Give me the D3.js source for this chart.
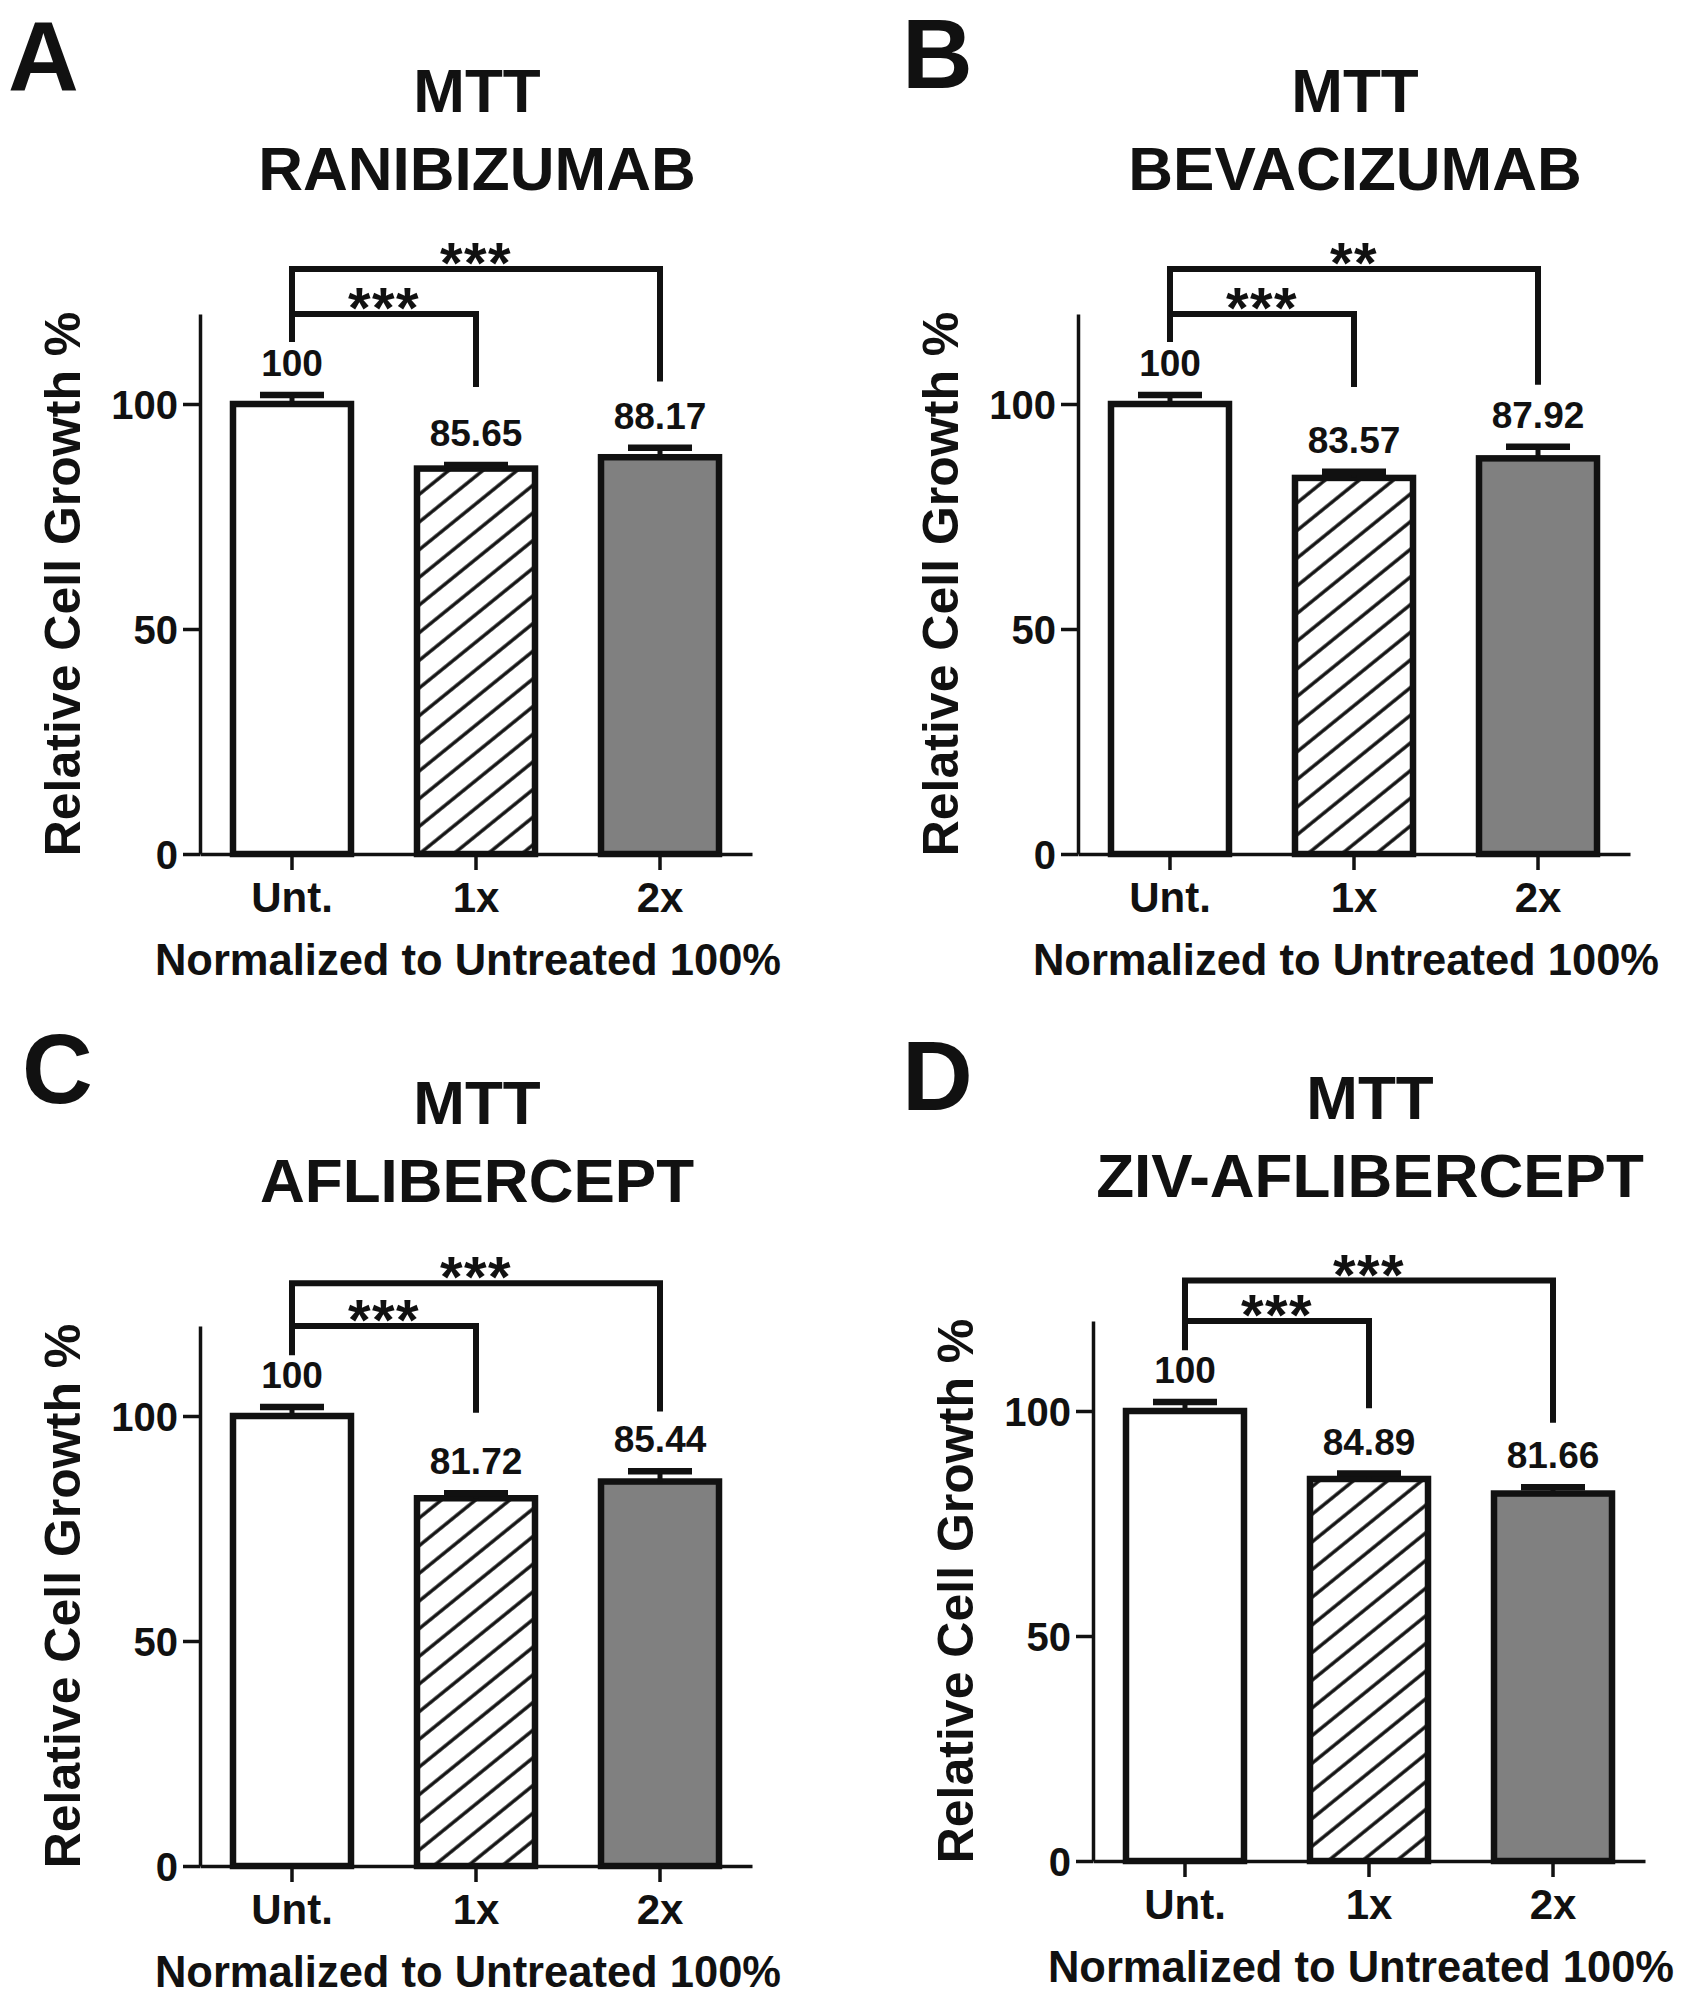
<!DOCTYPE html>
<html><head><meta charset="utf-8">
<script src="https://cdn.jsdelivr.net/npm/d3@7"></script>
<style>
body{margin:0;background:#fff}
svg{display:block}
text{font-family:"Liberation Sans",Arial,Helvetica,sans-serif;font-weight:bold;fill:#111}
</style>
</head><body>
<svg id="chart" width="1691" height="2003"></svg>
<script>
// ---------------- data ----------------
const categories = ["Unt.", "1x", "2x"];
const panelLetters = ["A", "B", "C", "D"];
const assayName = "MTT";
const drugNames = ["RANIBIZUMAB", "BEVACIZUMAB", "AFLIBERCEPT", "ZIV-AFLIBERCEPT"];
const valuesA = [100, 85.65, 88.17];
const valuesB = [100, 83.57, 87.92];
const valuesC = [100, 81.72, 85.44];
const valuesD = [100, 84.89, 81.66];
const errorsA = [2.0, 0.8, 2.1];
const errorsB = [2.0, 1.4, 2.6];
const errorsC = [2.0, 1.1, 2.3];
const errorsD = [2.0, 1.2, 1.4];
const sigNear = ["***", "***", "***", "***"];   // Unt. vs 1x
const sigFar  = ["***", "**", "***", "***"];    // Unt. vs 2x
const bracketNearLevel = [120, 120, 120, 120];
const bracketFarLevel  = [130, 130, 129.5, 129];
// bracket leg ends (value units): [Unt. leg, 1x leg, 2x leg]
const legEndsA = [113.8, 103.8, 105.0];
const legEndsB = [113.8, 103.8, 104.3];
const legEndsC = [113.5, 100.7, 101.0];
const legEndsD = [113.5, 100.6, 97.4];
const yTicks = [0, 50, 100];
const yMax = 120;
const yTitle = "Relative Cell Growth %";
const xTitle = "Normalized to Untreated 100%";

const values = [valuesA, valuesB, valuesC, valuesD];
const errors = [errorsA, errorsB, errorsC, errorsD];
const legEnds = [legEndsA, legEndsB, legEndsC, legEndsD];

// ---------------- layout ----------------
const layout = [
  {axisX: 200,  y0: 854,  letterX: 8,   letterY: 90},
  {axisX: 1078, y0: 854,  letterX: 902, letterY: 88},
  {axisX: 200,  y0: 1866, letterX: 22,  letterY: 1103},
  {axisX: 1093, y0: 1861, letterX: 902, letterY: 1110}
];
const pxPerUnit = 4.5;
const plotW = 552;
const fills = ["#ffffff", "url(#hatch)", "#808080"];

const svg = d3.select("#chart");
const defs = svg.append("defs");
const hs = 21.5;
const pat = defs.append("pattern")
  .attr("id", "hatch").attr("patternUnits", "userSpaceOnUse")
  .attr("width", hs).attr("height", hs)
  .attr("patternTransform", "rotate(51)");
pat.append("rect").attr("width", hs).attr("height", hs).attr("fill", "#fff");
pat.append("line").attr("x1", 3).attr("y1", 0).attr("x2", 3).attr("y2", hs)
  .attr("stroke", "#111").attr("stroke-width", 3.4);

panelLetters.forEach((letter, p) => {
  const L = layout[p];
  const g = svg.append("g");
  const x = d3.scaleBand().domain(categories)
    .range([L.axisX, L.axisX + plotW]).paddingInner(0.3587).paddingOuter(0.1793);
  const y = d3.scaleLinear().domain([0, yMax]).range([L.y0, L.y0 - yMax * pxPerUnit]);
  const cx = c => x(c) + x.bandwidth() / 2;
  const vals = values[p], errs = errors[p];

  // panel letter
  g.append("text").attr("x", L.letterX).attr("y", L.letterY)
    .attr("font-size", 98).text(letter);

  // titles
  const tcx = L.axisX + 277;
  g.append("text").attr("x", tcx).attr("y", L.y0 - 742)
    .attr("text-anchor", "middle").attr("font-size", 62).text(assayName);
  g.append("text").attr("x", tcx).attr("y", L.y0 - 664)
    .attr("text-anchor", "middle").attr("font-size", 62).text(drugNames[p]);

  // bars
  g.selectAll(".bar").data(categories).enter().append("rect")
    .attr("x", c => x(c)).attr("width", x.bandwidth())
    .attr("y", (c, i) => y(vals[i])).attr("height", (c, i) => y(0) - y(vals[i]))
    .attr("fill", (c, i) => fills[i]).attr("stroke", "#111").attr("stroke-width", 6.5);

  // error bars
  categories.forEach((c, i) => {
    const top = y(vals[i] + errs[i]);
    g.append("line").attr("x1", cx(c)).attr("x2", cx(c))
      .attr("y1", y(vals[i])).attr("y2", top).attr("stroke", "#111").attr("stroke-width", 5);
    g.append("line").attr("x1", cx(c) - 32).attr("x2", cx(c) + 32)
      .attr("y1", top).attr("y2", top).attr("stroke", "#111").attr("stroke-width", 6.5);
    g.append("text").attr("x", cx(c)).attr("y", top - 19)
      .attr("text-anchor", "middle").attr("font-size", 37)
      .text(vals[i] === 100 ? "100" : vals[i].toFixed(2));
  });

  // axes
  const yAxis = d3.axisLeft(y).tickValues(yTicks).tickSize(17).tickSizeOuter(0).tickPadding(5);
  const ya = g.append("g").attr("transform", `translate(${L.axisX},0)`).call(yAxis);
  const xAxis = d3.axisBottom(x).tickSize(16).tickSizeOuter(0).tickPadding(12);
  const xa = g.append("g").attr("transform", `translate(0,${L.y0})`).call(xAxis);
  [ya, xa].forEach(a => {
    a.select(".domain").attr("stroke", "#111").attr("stroke-width", 3.5);
    a.selectAll(".tick line").attr("stroke", "#111").attr("stroke-width", 3.5);
    a.selectAll("text").attr("fill", "#111").attr("font-family", null).attr("font-weight", "bold");
  });
  ya.selectAll("text").attr("font-size", 40).attr("dy", "0.36em");
  xa.selectAll("text").attr("font-size", 42).attr("dy", "0.72em");

  // axis titles
  g.append("text")
    .attr("transform", `translate(${L.axisX - 120},${L.y0 - yMax * pxPerUnit / 2}) rotate(-90)`)
    .attr("text-anchor", "middle").attr("font-size", 50).text(yTitle);
  g.append("text").attr("x", L.axisX + 268).attr("y", L.y0 + 121)
    .attr("text-anchor", "middle").attr("font-size", 43.5).text(xTitle);

  // significance brackets
  const le = legEnds[p];
  const x0 = cx(categories[0]), x1 = cx(categories[1]), x2 = cx(categories[2]);
  const yn = y(bracketNearLevel[p]), yf = y(bracketFarLevel[p]);
  g.append("path")
    .attr("d", `M${x0},${y(le[0])}V${yf}H${x2}V${y(le[2])}M${x0},${yn}H${x1}V${y(le[1])}`)
    .attr("fill", "none").attr("stroke", "#111").attr("stroke-width", 6);
  g.append("text").attr("x", (x0 + x1) / 2).attr("y", yn + 14)
    .attr("text-anchor", "middle").attr("font-size", 58).attr("letter-spacing", 1.5)
    .text(sigNear[p]);
  g.append("text").attr("x", (x0 + x2) / 2).attr("y", yf + 14)
    .attr("text-anchor", "middle").attr("font-size", 58).attr("letter-spacing", 1.5)
    .text(sigFar[p]);
});
</script>
</body></html>
